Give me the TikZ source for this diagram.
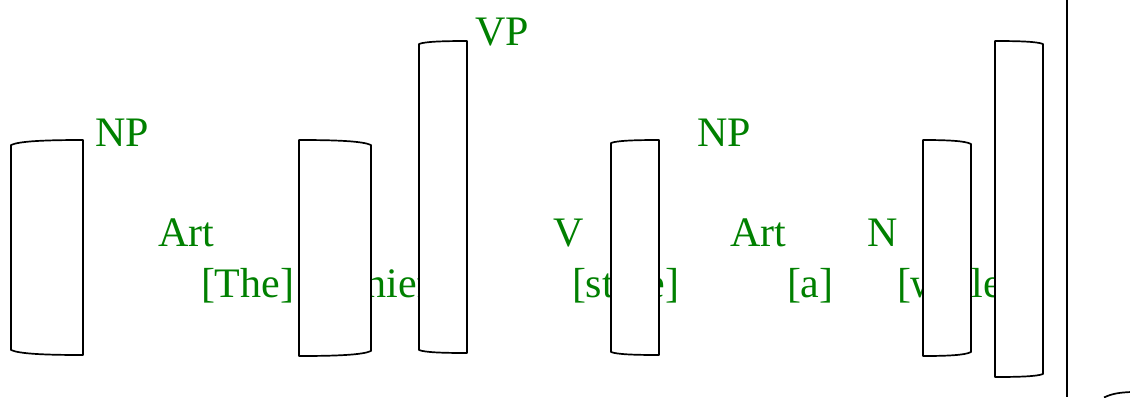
\documentclass[tikz,border=0pt]{standalone}
\usepackage{fontspec}
\setmainfont{Liberation Serif}
\definecolor{lblgreen}{RGB}{0,128,0}
% bar whose left side is shorter: #1 x-left, #2 x-right, #3 y-top, #4 y-bottom, #5 inset
\newcommand\barleftshort[5]{%
  \path[bar] (#1,{#3+#5}) .. controls ({#1+0.12*(#2-#1)},{#3+0.2*#5}) and ({#1+0.5*(#2-#1)},#3) .. (#2,#3)
    -- (#2,#4) .. controls ({#1+0.5*(#2-#1)},#4) and ({#1+0.12*(#2-#1)},{#4-0.2*#5}) .. (#1,{#4-#5}) -- cycle;}
% bar whose right side is shorter
\newcommand\barrightshort[5]{%
  \path[bar] (#1,#3) .. controls ({#2-0.5*(#2-#1)},#3) and ({#2-0.12*(#2-#1)},{#3+0.2*#5}) .. (#2,{#3+#5})
    -- (#2,{#4-#5}) .. controls ({#2-0.12*(#2-#1)},{#4-0.2*#5}) and ({#2-0.5*(#2-#1)},#4) .. (#1,#4) -- cycle;}
\begin{document}
\begin{tikzpicture}[x=0.5pt,y=-0.5pt,
  lbl/.style={text=lblgreen, font=\fontsize{21}{25}\selectfont, inner sep=0pt, outer sep=0pt, anchor=base west},
  bar/.style={draw=black, fill=white, line width=0.85pt, line join=round}]
\useasboundingbox (0,0) rectangle (1130,397);
\clip (0,0) rectangle (1130,397);
% labels
\node[lbl] (np1) at (95,146) {NP};
\node[lbl] (vp) at (475,45) {VP};
\node[lbl] (np2) at (697,146) {NP};
\node[lbl] (art1) at (158,246) {Art};
\node[lbl] (v) at (553,246) {V};
\node[lbl] (art2) at (730,246) {Art};
\node[lbl] (n) at (867,246) {N};
\node[lbl] (w1) at (201,297) {[The]};
\node[lbl] (w2) at (340,297) {[thief]};
\node[lbl] (w3) at (572,297) {[stole]};
\node[lbl] (w4) at (787,297) {[a]};
\node[lbl] (w5) at (897,297) {[wallet]};
% bars
\barleftshort{11}{83}{140}{355}{5}
\barrightshort{299}{371}{140}{356}{5}
\barleftshort{419}{467}{41}{353}{3}
\barleftshort{611}{659}{140}{355}{3}
\barrightshort{923}{971}{140}{356}{4}
\barrightshort{995}{1043}{41}{377}{3}
% right edge
\draw[line width=0.85pt] (1067,0) -- (1067,397);
\draw[line width=0.85pt] (1104,397.5) .. controls (1112,393.5) and (1120,392.5) .. (1131,392);
\end{tikzpicture}
\end{document}
